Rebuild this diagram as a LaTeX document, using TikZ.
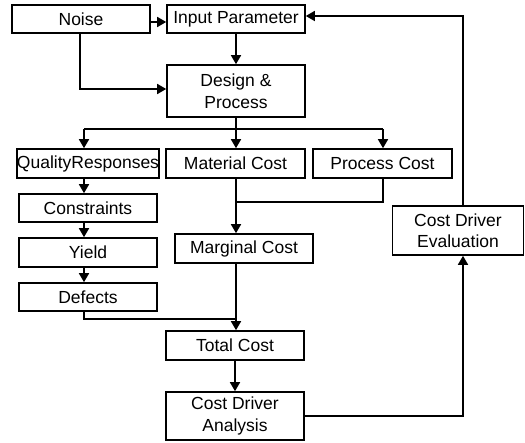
\documentclass[tikz,border=0pt]{standalone}
\usepackage{fontspec}
\setmainfont{Liberation Sans}
\usetikzlibrary{arrows.meta}
\begin{document}
\begin{tikzpicture}[x=1pt,y=-1pt,
  box/.style={draw,line width=1.6pt,minimum width=138pt,minimum height=28pt,inner sep=0pt,align=center,
    font=\fontsize{17.5}{21.5}\selectfont},
  conn/.style={line width=1.6pt},
  arr/.style={line width=1.6pt,-{Triangle[length=9pt,width=10pt]}}]
\useasboundingbox (0,0) rectangle (525,443);
\node[box] (noise) at (81,19) {Noise};
\node[box] (inp) at (236,19) {Input Parameter};
\node[box,minimum height=52pt] (des) at (236,91) {Design \&\\Process};
\node[box,minimum height=29pt] (qr) at (88,163.5) {QualityResponses};
\node[box,minimum height=29pt,minimum width=139pt] (mat) at (235.5,163.5) {Material Cost};
\node[box,minimum height=29pt,minimum width=139pt] (proc) at (382.5,163.5) {Process Cost};
\node[box] (con) at (88,208) {Constraints};
\node[box,minimum height=29pt] (yld) at (88,252.5) {Yield};
\node[box] (def) at (88,297) {Defects};
\node[box,minimum height=29pt] (marg) at (244,248.5) {Marginal Cost};
\node[box,minimum height=49pt,minimum width=131pt] (cde) at (458,230.5) {Cost Driver\\Evaluation};
\node[box,minimum height=29pt] (tot) at (235,345.5) {Total Cost};
\node[box,minimum height=48pt] (cda) at (235,416) {Cost Driver\\Analysis};
\coordinate (bus) at (236,129);
\coordinate (merge) at (236,202);
\coordinate (join) at (236,319);
% top
\draw[arr] (noise.east |- 0,22) -- (inp.west |- 0,22);
\draw[arr] (80,0 |- noise.south) -- (80,89) -- (des.west |- 0,89);
\draw[arr] (inp.south) -- (des.north);
% bus
\draw[conn] (des.south) -- (bus);
\draw[conn] (84,129) -- (383,129);
\draw[arr] (84,129) -- (84,0 |- qr.north);
\draw[arr] (bus) -- (236,0 |- mat.north);
\draw[arr] (383,129) -- (383,0 |- proc.north);
% left column
\draw[arr] (84,0 |- qr.south) -- (84,0 |- con.north);
\draw[arr] (84,0 |- con.south) -- (84,0 |- yld.north);
\draw[arr] (84,0 |- yld.south) -- (84,0 |- def.north);
% middle
\draw[arr] (236,0 |- mat.south) -- (236,0 |- marg.north);
\draw[conn] (383,0 |- proc.south) -- (383,202) -- (merge);
\draw[arr] (236,0 |- marg.south) -- (236,0 |- tot.north);
\draw[conn] (84,0 |- def.south) -- (84,319) -- (join);
\draw[arr] (tot.south) -- (cda.north);
% feedback
\draw[arr] (cda.east) -- (463,416) -- (463,0 |- cde.south);
\draw[arr] (463,0 |- cde.north) -- (463,16) -- (inp.east |- 0,16);
\end{tikzpicture}
\end{document}
